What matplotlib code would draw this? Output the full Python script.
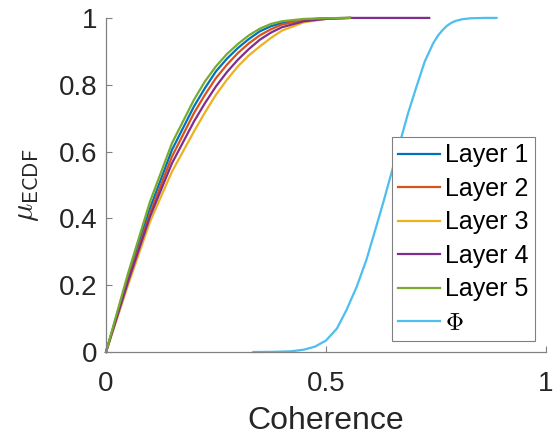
import numpy as np
import matplotlib
matplotlib.use("Agg")
import matplotlib.pyplot as plt

plt.rcParams['font.family'] = ['Liberation Sans', 'DejaVu Sans']
plt.rcParams['mathtext.fontset'] = 'cm'

# ECDF curves
x_layers = [0, 0.05, 0.1, 0.15, 0.2, 0.225, 0.25, 0.275, 0.3, 0.325, 0.35, 0.375,
            0.4, 0.45, 0.5, 0.555]
layer1 = [0, 0.225, 0.43, 0.605, 0.735, 0.79, 0.84, 0.878, 0.91, 0.937, 0.96, 0.975,
          0.985, 0.995, 0.999, 1.0]
layer2 = [0, 0.215, 0.415, 0.585, 0.715, 0.77, 0.82, 0.86, 0.895, 0.924, 0.948, 0.966,
          0.98, 0.994, 0.999, 1.0]
layer3 = [0, 0.20, 0.39, 0.54, 0.66, 0.717, 0.77, 0.815, 0.855, 0.888, 0.915, 0.94,
          0.962, 0.987, 0.997, 1.0]
layer4 = [0, 0.21, 0.405, 0.565, 0.69, 0.745, 0.795, 0.838, 0.875, 0.907, 0.935, 0.956,
          0.972, 0.99, 0.997, 1.0]
layer5 = [0, 0.235, 0.45, 0.625, 0.755, 0.81, 0.855, 0.892, 0.922, 0.948, 0.968, 0.982,
          0.99, 0.997, 0.999, 1.0]
# layer 4 keeps going flat
x_layer4_tail = [0.555, 0.735]
layer4_tail = [1.0, 1.0]

x_phi = [0.335, 0.38, 0.42, 0.45, 0.475, 0.50, 0.525, 0.547, 0.57, 0.592, 0.61, 0.630,
         0.65, 0.668, 0.687, 0.706, 0.725, 0.744, 0.755, 0.765, 0.775, 0.785, 0.795,
         0.81, 0.83, 0.86, 0.888]
phi = [0.0, 0.0005, 0.002, 0.007, 0.016, 0.034, 0.07, 0.126, 0.195, 0.275, 0.355, 0.445,
       0.54, 0.625, 0.715, 0.794, 0.87, 0.924, 0.947, 0.963, 0.976, 0.985, 0.991,
       0.996, 0.999, 1.0, 1.0]

colors = ['#0072BD', '#D95319', '#EDB120', '#7E2F8E', '#77AC30', '#4DBEEE']
labels = ['Layer 1', 'Layer 2', 'Layer 3', 'Layer 4', 'Layer 5', r'$\Phi$']

fig = plt.figure(figsize=(5.58, 4.37), dpi=100)
ax = fig.add_axes([0.19, 0.1945, 0.788, 0.7645])

lw = 1.6
series = [layer1, layer2, layer3, layer4, layer5]
for i, ys in enumerate(series):
    xs = list(x_layers)
    yv = list(ys)
    if i == 3:
        xs += x_layer4_tail[1:]
        yv += layer4_tail[1:]
    ax.plot(xs, yv, color=colors[i], lw=lw, label=labels[i], clip_on=False)
ax.plot(x_phi, phi, color=colors[5], lw=lw, label=labels[5], clip_on=False)

ax.set_xlim(0, 1)
ax.set_ylim(0, 1)
ax.set_xticks([0, 0.5, 1])
ax.set_xticklabels(['0', '0.5', '1'])
ax.set_yticks([0, 0.2, 0.4, 0.6, 0.8, 1])
ax.set_yticklabels(['0', '0.2', '0.4', '0.6', '0.8', '1'])

for s in ['top', 'right']:
    ax.spines[s].set_visible(False)
for s in ['left', 'bottom']:
    ax.spines[s].set_color('#808080')
    ax.spines[s].set_linewidth(0.9)
ax.tick_params(direction='in', length=4, width=0.8, color='#808080',
               labelsize=20, labelcolor='#262626')
ax.tick_params(axis='x', pad=14)
ax.tick_params(axis='y', pad=6)

ax.set_xlabel('Coherence', fontsize=23, color='#262626', labelpad=6)
ax.set_ylabel(r'$\mu_{\mathsf{ECDF}}$', fontsize=22, color='#262626', labelpad=13)

leg = ax.legend(loc='lower right', fontsize=18, frameon=True, fancybox=False,
                framealpha=1, edgecolor='#808080', handlelength=1.7,
                handletextpad=0.18, labelspacing=0.38, borderpad=0.25,
                borderaxespad=0.44)
leg.get_frame().set_linewidth(0.8)

fig.savefig('out.png', dpi=100)
